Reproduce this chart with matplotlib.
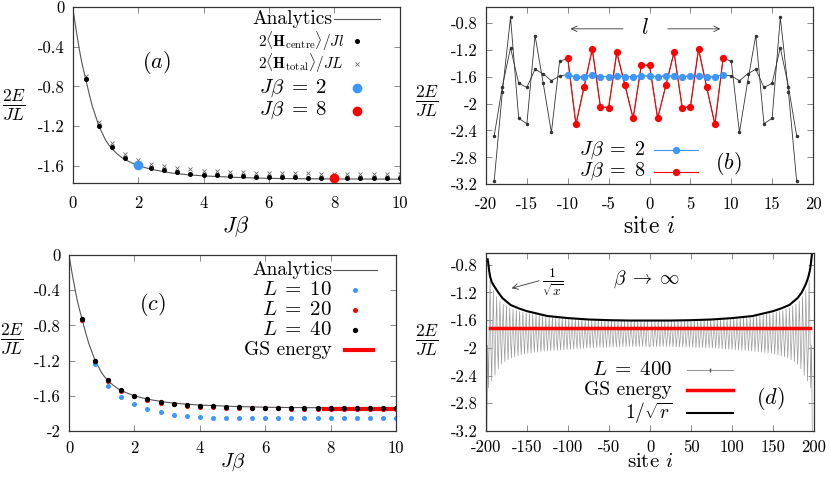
import numpy as np
import matplotlib
matplotlib.use('Agg')
import matplotlib.pyplot as plt

plt.rcParams['font.family'] = ['cmr10', 'DejaVu Serif']
plt.rcParams['mathtext.fontset'] = 'cm'
plt.rcParams['axes.formatter.use_mathtext'] = True

BLUE = '#3c96ff'
RED = '#ff0000'
GRAY = '#555555'

# ---- panels (a) and (c): energy against J*beta ----
jbeta = [0.4, 0.8, 1.2, 1.6, 2.0, 2.4, 2.8, 3.2, 3.6, 4.0, 4.4, 4.8, 5.2,
         5.6, 6.0, 6.4, 6.8, 7.2, 7.6, 8.0, 8.4, 8.8, 9.2, 9.6, 10.0]

an_x = [0, 0.05, 0.1, 0.15, 0.2, 0.25, 0.3, 0.35, 0.4, 0.5, 0.6, 0.7, 0.8,
        0.9, 1.0, 1.1, 1.2, 1.35, 1.5, 1.75, 2.0, 2.25, 2.5, 3.0, 3.5, 4.0,
        5.0, 6.0, 7.0, 8.0, 9.0, 10.0]
an_y = [0, -0.11, -0.22, -0.32, -0.42, -0.51, -0.59, -0.66, -0.73, -0.87,
        -1.0, -1.1, -1.2, -1.27, -1.34, -1.39, -1.43, -1.48, -1.52, -1.565,
        -1.6, -1.625, -1.645, -1.675, -1.693, -1.705, -1.72, -1.73, -1.734,
        -1.736, -1.737, -1.738]

centre_a = [-0.73, -1.197, -1.414, -1.525, -1.588, -1.625, -1.648, -1.669,
            -1.682, -1.692, -1.699, -1.705, -1.71, -1.713, -1.716, -1.719,
            -1.721, -1.723, -1.725, -1.727, -1.728, -1.729, -1.73, -1.73,
            -1.731]
total_a = [-0.69, -1.16, -1.37, -1.48, -1.54, -1.585, -1.61, -1.63, -1.64,
           -1.655, -1.66, -1.665, -1.67, -1.672, -1.675, -1.677, -1.679,
           -1.68, -1.681, -1.682, -1.683, -1.684, -1.685, -1.685, -1.686]
pick_jb = [2.0, 8.0]
pick_e = [-1.595, -1.73]

L40 = [-0.731, -1.2, -1.425, -1.539, -1.6, -1.642, -1.669, -1.688, -1.703,
       -1.714, -1.72, -1.726, -1.73, -1.733, -1.736, -1.738, -1.739, -1.74,
       -1.741, -1.742, -1.742, -1.743, -1.743, -1.744, -1.744]
L20 = [-0.735, -1.205, -1.43, -1.545, -1.607, -1.65, -1.68, -1.697, -1.712,
       -1.722, -1.73, -1.735, -1.738, -1.741, -1.743, -1.744, -1.745, -1.746,
       -1.746, -1.747, -1.747, -1.747, -1.747, -1.748, -1.748]
L10 = [-0.743, -1.238, -1.493, -1.619, -1.691, -1.749, -1.787, -1.813,
       -1.829, -1.84, -1.848, -1.851, -1.853, -1.854, -1.855, -1.855, -1.856,
       -1.856, -1.856, -1.856, -1.856, -1.856, -1.856, -1.856, -1.856]
gs_c_x = [7.8, 10.0]
gs_c = -1.745

# ---- panel (b): site energies, L = 40 ----
sites_b = list(range(-19, 19))
red_b = [-1.33, -2.31, -1.75, -1.19, -2.05, -2.06, -1.24, -1.73, -2.22,
         -1.43, -1.43, -2.22, -1.73, -1.24, -2.06, -2.05, -1.19, -1.76,
         -2.31, -1.33]
blue_b = [-1.57, -1.61, -1.60, -1.58, -1.60, -1.60, -1.59, -1.60, -1.60,
          -1.59, -1.59, -1.60, -1.59, -1.59, -1.60, -1.59, -1.59, -1.61,
          -1.60, -1.57]
out8_left = [-3.15, -1.83, -0.72, -2.22, -2.30, -0.99, -1.70, -2.43, -1.37]
out8_right = [-1.37, -2.43, -1.68, -0.99, -2.30, -2.22, -0.72, -1.83, -3.15]
out2_left = [-2.48, -1.75, -1.17, -1.70, -1.76, -1.49, -1.56, -1.66, -1.59]
out2_right = [-1.59, -1.66, -1.56, -1.49, -1.76, -1.70, -1.17, -1.75, -2.48]
black8_b = out8_left + red_b + out8_right
black2_b = out2_left + blue_b + out2_right

# ---- panel (d): site energies, L = 400 ----
env_sites = [-198, -196, -194, -190, -185, -180, -170, -160, -150, -130,
             -100, -75, -50, -25, -1]
env_upper = [-0.78, -0.95, -1.1, -1.2, -1.3, -1.36, -1.43, -1.47, -1.5,
             -1.54, -1.57, -1.59, -1.6, -1.61, -1.61]
env_lower = [-2.6, -2.55, -2.5, -2.42, -2.3, -2.22, -2.15, -2.11, -2.08,
             -2.05, -2.02, -2.0, -1.99, -1.98, -1.98]
spike_shape = [1.0, 0.35, 0.0, 0.55]
edge_site_e = -3.3

sqrt_x = [-198, -197, -196, -195, -193, -190, -185, -180, -170, -160, -150,
          -125, -100, -75, -50, -25, 0, 25, 50, 75, 100, 125, 150, 160, 170,
          180, 185, 190, 193, 195, 196, 197, 198]
sqrt_y = [-0.72, -0.8, -0.9, -0.97, -1.05, -1.11, -1.2, -1.28, -1.38, -1.43,
          -1.47, -1.54, -1.57, -1.59, -1.60, -1.605, -1.605, -1.605, -1.60,
          -1.59, -1.57, -1.54, -1.47, -1.43, -1.38, -1.28, -1.2, -1.08,
          -0.98, -0.88, -0.8, -0.7, -0.58]
gs_d_x = [-195, 195]
gs_d = -1.72


def style_axes(ax, xticks, yticks, xlim, ylim):
    ax.set_xlim(*xlim)
    ax.set_ylim(*ylim)
    ax.set_xticks(xticks)
    ax.set_xticklabels([f'{t:g}' for t in xticks])
    ax.set_yticks(yticks)
    ax.set_yticklabels([f'{t:g}' for t in yticks])
    ax.tick_params(direction='in', length=4, width=0.6, top=True,
                   right=True, labelsize=12, pad=6, color='#777777')
    ax.tick_params(axis='x', pad=9)
    for sp in ax.spines.values():
        sp.set_color('#333333')
        sp.set_linewidth(0.9)


def ylabel(ax, x, y):
    ax.text(x, y, r'$\frac{2E}{JL}$', transform=ax.transAxes, fontsize=18,
            ha='center', va='center')


def key(ax, y, label, xt, xs, size, **kw):
    ax.text(xt, y, label, transform=ax.transAxes, ha='right', va='center',
            fontsize=size)
    line = kw.pop('line', True)
    if line:
        ax.plot(xs, [y, y], transform=ax.transAxes, clip_on=False,
                **kw)
    else:
        ax.plot([(xs[0] + xs[1]) / 2], [y], transform=ax.transAxes,
                clip_on=False, linestyle='none', **kw)


fig = plt.figure(figsize=(8.3, 4.8), dpi=100)
W, H = 830, 480


def px_axes(left, top, width, height):
    return fig.add_axes([left / W, 1 - (top + height) / H, width / W,
                         height / H])


# (a)
ax = px_axes(72.7, 7.3, 327, 176)
ax.plot(an_x, an_y, color=GRAY, lw=0.8)
ax.plot(jbeta, total_a, 'x', color='#666666', ms=3, mew=0.6)
ax.plot(jbeta, centre_a, 'o', color='black', ms=2.6)
ax.plot(pick_jb[0], pick_e[0], 'o', color=BLUE, ms=6)
ax.plot(pick_jb[1], pick_e[1], 'o', color=RED, ms=6)
style_axes(ax, [0, 2, 4, 6, 8, 10], [0, -0.4, -0.8, -1.2, -1.6],
           (0, 10), (-1.78, 0))
ax.set_xlabel(r'$J\beta$', fontsize=16, labelpad=2)
ylabel(ax, -0.18, 0.44)
ax.text(0.255, 0.684, r'$(a)$', transform=ax.transAxes, fontsize=16,
        ha='center', va='center')
xs = [0.80, 0.94]
key(ax, 0.934, 'Analytics', 0.793, xs, 14, color=GRAY, lw=0.8)
key(ax, 0.806, r'$2\langle\mathbf{H}_{\rm centre}\rangle/Jl$', 0.83, xs,
    11, line=False, marker='o', color='black', ms=2.6)
key(ax, 0.68, r'$2\langle\mathbf{H}_{\rm total}\rangle/JL$', 0.83, xs,
    11, line=False, marker='x', color='#666666', ms=3, mew=0.6)
key(ax, 0.541, r'$J\beta\;=\;2$', 0.78, xs, 15, line=False, marker='o',
    color=BLUE, ms=6)
key(ax, 0.413, r'$J\beta\;=\;8$', 0.78, xs, 15, line=False, marker='o',
    color=RED, ms=6)

# (b)
ax = px_axes(486, 7.3, 327, 177)
ax.plot(sites_b, black2_b, '-o', color='#333333', lw=0.6, ms=1.5)
ax.plot(sites_b, black8_b, '-o', color='#333333', lw=0.6, ms=1.5)
ax.plot(sites_b[9:29], red_b, '-o', color=RED, lw=0.8, ms=4.2)
ax.plot(sites_b[9:29], blue_b, '-o', color=BLUE, lw=0.8, ms=4.2)
style_axes(ax, [-20, -15, -10, -5, 0, 5, 10, 15, 20],
           [-3.2, -2.8, -2.4, -2, -1.6, -1.2, -0.8], (-20, 20),
           (-3.2, -0.57))
ax.set_xlabel(r'site $i$', fontsize=17, labelpad=3)
ylabel(ax, -0.18, 0.47)
ax.annotate('', xy=(-10, -0.89), xytext=(-2.9, -0.89),
            arrowprops=dict(arrowstyle='->', color='#333333', lw=0.6))
ax.annotate('', xy=(9, -0.89), xytext=(1.9, -0.89),
            arrowprops=dict(arrowstyle='->', color='#333333', lw=0.6))
ax.text(-0.5, -0.88, r'$l$', fontsize=16, ha='center', va='center')
ax.text(0.74, 0.12, r'$(b)$', transform=ax.transAxes, fontsize=16,
        ha='center', va='center')
xs = [0.514, 0.648]
key(ax, 0.195, r'$J\beta\;=\;2$', 0.486, xs, 14.5, color=BLUE, lw=0.8)
key(ax, 0.072, r'$J\beta\;=\;8$', 0.486, xs, 14.5, color=RED, lw=0.8)
ax.plot([0.581], [0.195], 'o', color=BLUE, ms=4.2, transform=ax.transAxes,
        clip_on=False)
ax.plot([0.581], [0.072], 'o', color=RED, ms=4.2, transform=ax.transAxes,
        clip_on=False)

# (c)
ax = px_axes(69, 255, 327, 176)
ax.plot(an_x, an_y, color=GRAY, lw=0.8)
ax.plot(gs_c_x, [gs_c, gs_c], color=RED, lw=3)
ax.plot(jbeta, L10, 'o', color=BLUE, ms=2.6)
ax.plot(jbeta, L20, 'o', color=RED, ms=2.6)
ax.plot(jbeta, L40, 'o', color='black', ms=2.8)
style_axes(ax, [0, 2, 4, 6, 8, 10], [0, -0.4, -0.8, -1.2, -1.6, -2],
           (0, 10), (-2, 0))
ax.tick_params(axis='x', pad=7)
ax.set_xlabel(r'$J\beta$', fontsize=15, labelpad=-3)
ylabel(ax, -0.174, 0.52)
ax.text(0.254, 0.716, r'$(c)$', transform=ax.transAxes, fontsize=16,
        ha='center', va='center')
xs = [0.807, 0.942]
key(ax, 0.915, 'Analytics', 0.804, xs, 14, color=GRAY, lw=0.8)
key(ax, 0.801, r'$L\;=\;10$', 0.804, xs, 15, line=False, marker='o',
    color=BLUE, ms=2.6)
key(ax, 0.688, r'$L\;=\;20$', 0.804, xs, 15, line=False, marker='o',
    color=RED, ms=2.6)
key(ax, 0.574, r'$L\;=\;40$', 0.804, xs, 15, line=False, marker='o',
    color='black', ms=2.8)
key(ax, 0.46, 'GS energy', 0.804, [0.844, 0.93], 14, color=RED, lw=3)

# (d)
left_sites = np.arange(-199, 0)
up = np.interp(left_sites, env_sites, env_upper)
lo = np.interp(left_sites, env_sites, env_lower)
w = np.array([spike_shape[k % len(spike_shape)] for k in range(len(left_sites))])
left_e = lo + w * (up - lo)
left_e[0] = edge_site_e
sites_d = np.concatenate([left_sites, -1 - left_sites[::-1]])
energy_d = np.concatenate([left_e, left_e[::-1]])

ax = px_axes(486, 253, 328, 178)
ax.plot(sites_d, energy_d, '-', color='#9a9a9a', lw=0.5)
ax.plot(gs_d_x, [gs_d, gs_d], color=RED, lw=2.5)
ax.plot(sqrt_x, sqrt_y, color='black', lw=1.5)
style_axes(ax, [-200, -150, -100, -50, 0, 50, 100, 150, 200],
           [-3.2, -2.8, -2.4, -2, -1.6, -1.2, -0.8], (-200, 200),
           (-3.2, -0.63))
ax.tick_params(axis='x', pad=6)
ax.set_xlabel(r'site $i$', fontsize=15, labelpad=-1)
ylabel(ax, -0.18, 0.51)
ax.annotate('', xy=(-172, -1.15), xytext=(-132, -1.02),
            arrowprops=dict(arrowstyle='->', color='#333333', lw=0.6))
ax.text(0.204, 0.83, r'$\frac{1}{\sqrt{x}}$', transform=ax.transAxes,
        fontsize=14, ha='center', va='center')
ax.text(0.49, 0.854, r'$\beta\;\rightarrow\;\infty$', transform=ax.transAxes,
        fontsize=14, ha='center', va='center')
ax.text(0.866, 0.185, r'$(d)$', transform=ax.transAxes, fontsize=16,
        ha='center', va='center')
xs = [0.613, 0.753]
key(ax, 0.343, r'$L\;=\;400$', 0.567, xs, 15, color='#9a9a9a', lw=0.8)
ax.plot([0.683], [0.343], '|', color='#555555', ms=3,
        transform=ax.transAxes, clip_on=False)
key(ax, 0.23, 'GS energy', 0.567, xs, 14, color=RED, lw=2.5)
key(ax, 0.101, r'$1/\sqrt{r}$', 0.567, xs, 14, color='black', lw=1.5)

fig.savefig('out.png', dpi=100)
